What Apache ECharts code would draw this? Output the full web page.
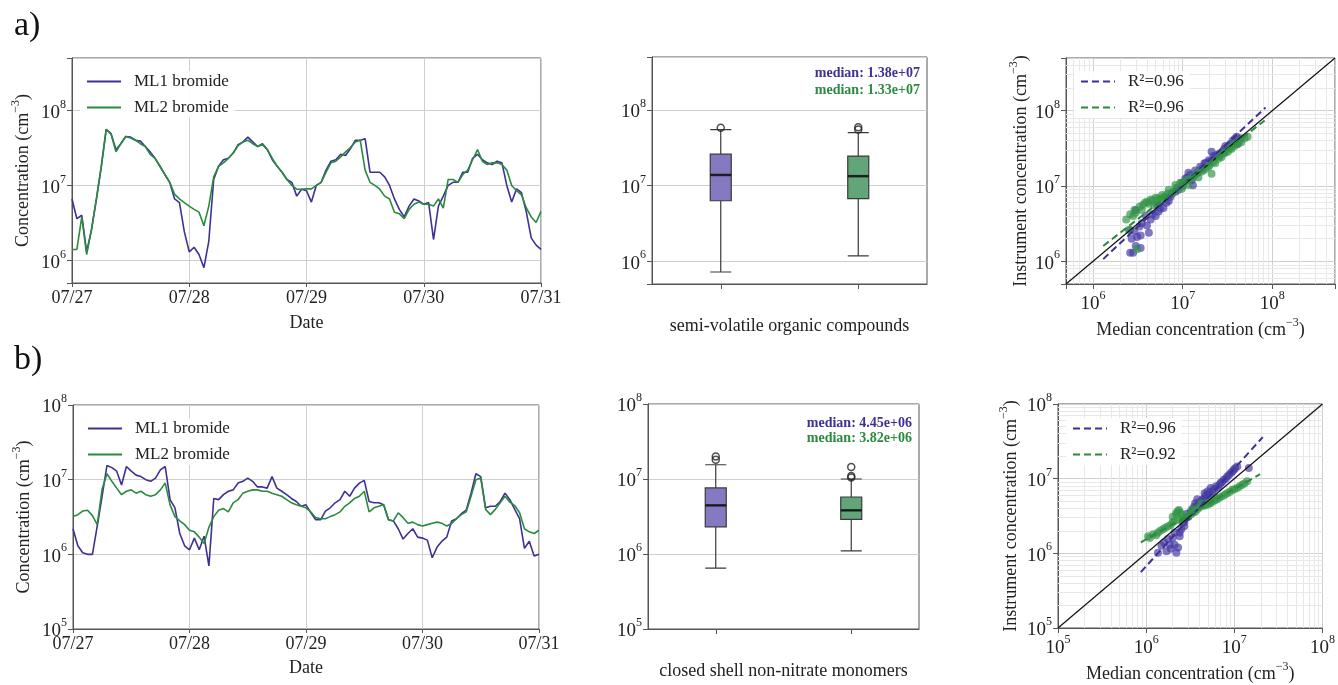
<!DOCTYPE html>
<html>
<head>
<meta charset="utf-8">
<script src="https://cdn.jsdelivr.net/npm/echarts@6/dist/echarts.min.js"></script>
<style>
  html, body { margin: 0; padding: 0; background: #fff; }
  #chart { width: 1338px; height: 685px; }
</style>
</head>
<body>
<div id="chart"></div>
<script>
// ---- data ----
const tickLabels = ['07/27', '07/28', '07/29', '07/30', '07/31'];

// hourly values, 07/27 00:00 .. 07/31 00:00
const svocML1 = [
  6.6e6, 3.6e6, 4.0e6, 1.3e6, 2.6e6, 6.6e6, 1.8e7, 5.6e7, 4.9e7, 3.0e7, 3.6e7, 4.5e7,
  4.4e7, 4.0e7, 3.9e7, 3.3e7, 2.8e7, 2.3e7, 1.8e7, 1.4e7, 1.1e7, 6.6e6, 5.9e6, 2.4e6,
  1.3e6, 1.5e6, 1.2e6, 8.0e5, 1.8e6, 1.2e7, 1.8e7, 2.2e7, 2.3e7, 2.7e7, 3.5e7, 3.8e7,
  4.4e7, 3.8e7, 3.3e7, 3.6e7, 3.0e7, 2.2e7, 1.8e7, 1.5e7, 1.2e7, 1.1e7, 7.2e6, 8.9e6,
  8.5e6, 6.0e6, 1.0e7, 1.1e7, 1.6e7, 2.1e7, 2.2e7, 2.6e7, 2.5e7, 3.1e7, 4.0e7, 4.0e7,
  4.2e7, 1.5e7, 1.5e7, 1.5e7, 1.3e7, 1.0e7, 6.6e6, 4.8e6, 3.8e6, 5.3e6, 6.6e6, 6.2e6,
  5.6e6, 5.9e6, 1.9e6, 5.3e6, 7.2e6, 1.0e7, 1.1e7, 1.1e7, 1.5e7, 1.5e7, 2.3e7, 2.6e7,
  2.2e7, 2.0e7, 1.9e7, 2.1e7, 2.0e7, 1.0e7, 6.0e6, 9.0e6, 8.0e6, 4.4e6, 2.0e6, 1.6e6,
  1.4e6
];
const svocML2 = [
  1.4e6, 1.4e6, 3.8e6, 1.2e6, 2.6e6, 6.6e6, 1.8e7, 5.6e7, 4.8e7, 2.8e7, 3.6e7, 4.5e7,
  4.3e7, 4.0e7, 3.6e7, 3.3e7, 2.6e7, 2.3e7, 1.8e7, 1.4e7, 1.1e7, 7.6e6, 6.6e6, 5.9e6,
  5.3e6, 4.8e6, 4.4e6, 2.9e6, 5.3e6, 1.3e7, 1.8e7, 2.0e7, 2.3e7, 2.7e7, 3.4e7, 3.8e7,
  4.0e7, 3.6e7, 3.3e7, 3.5e7, 3.0e7, 2.3e7, 1.8e7, 1.5e7, 1.2e7, 1.0e7, 8.9e6, 8.9e6,
  9.0e6, 9.0e6, 1.0e7, 1.1e7, 1.5e7, 2.0e7, 2.1e7, 2.4e7, 2.8e7, 3.2e7, 3.8e7, 4.0e7,
  1.6e7, 1.1e7, 1.0e7, 8.9e6, 7.2e6, 6.6e6, 4.4e6, 4.2e6, 3.6e6, 4.8e6, 5.6e6, 6.0e6,
  5.6e6, 5.6e6, 5.3e6, 6.6e6, 5.0e6, 1.2e7, 1.2e7, 1.1e7, 1.4e7, 1.6e7, 2.2e7, 3.0e7,
  2.1e7, 1.9e7, 2.0e7, 2.0e7, 1.9e7, 1.6e7, 1.0e7, 8.5e6, 7.5e6, 5.0e6, 3.8e6, 3.2e6,
  4.5e6
];
const monoML1 = [
  2.2e6, 1.3e6, 1.05e6, 1.0e6, 1.0e6, 2.4e6, 6.0e6, 1.55e7, 1.45e7, 1.3e7, 8.5e6, 1.5e7,
  1.3e7, 1.15e7, 1.1e7, 1.0e7, 9.5e6, 1.05e7, 1.35e7, 1.5e7, 5.4e6, 4.2e6, 1.9e6, 1.3e6,
  1.15e6, 1.65e6, 1.15e6, 1.75e6, 7.0e5, 5.6e6, 5.4e6, 6.3e6, 7.0e6, 7.3e6, 9.0e6, 9.5e6,
  1.05e7, 9.5e6, 8.0e6, 8.0e6, 7.7e6, 1.1e7, 7.7e6, 7.0e6, 6.3e6, 5.6e6, 5.1e6, 4.4e6,
  4.6e6, 3.6e6, 2.9e6, 2.9e6, 3.8e6, 4.2e6, 4.9e6, 5.4e6, 7.0e6, 6.0e6, 7.7e6, 9.0e6,
  9.8e6, 5.1e6, 4.9e6, 4.9e6, 4.6e6, 2.9e6, 2.8e6, 2.2e6, 1.6e6, 1.9e6, 2.2e6, 1.7e6,
  1.65e6, 1.55e6, 9.0e5, 1.25e6, 1.5e6, 1.7e6, 2.8e6, 3.0e6, 3.5e6, 3.9e6, 6.6e6, 1.2e7,
  1.1e7, 4.2e6, 4.4e6, 4.4e6, 5.1e6, 6.6e6, 5.4e6, 4.0e6, 3.0e6, 1.2e6, 1.5e6, 9.5e5,
  1.0e6
];
const monoML2 = [
  3.2e6, 3.4e6, 3.8e6, 3.9e6, 3.3e6, 2.5e6, 7.5e6, 1.2e7, 9.5e6, 7.7e6, 6.3e6, 7.0e6,
  7.3e6, 6.6e6, 7.0e6, 6.3e6, 6.0e6, 6.3e6, 7.3e6, 9.0e6, 4.6e6, 3.2e6, 2.8e6, 2.5e6,
  2.1e6, 2.0e6, 1.7e6, 1.4e6, 2.3e6, 3.2e6, 3.9e6, 4.1e6, 3.7e6, 4.9e6, 5.4e6, 6.6e6,
  7.0e6, 7.3e6, 7.3e6, 7.0e6, 7.0e6, 6.6e6, 6.3e6, 6.0e6, 5.4e6, 4.9e6, 4.6e6, 4.4e6,
  4.2e6, 3.7e6, 3.1e6, 3.0e6, 3.0e6, 3.2e6, 3.4e6, 3.7e6, 4.4e6, 4.9e6, 5.6e6, 6.0e6,
  7.0e6, 3.7e6, 4.2e6, 4.4e6, 4.6e6, 2.9e6, 2.8e6, 3.6e6, 3.1e6, 2.6e6, 2.7e6, 2.5e6,
  2.4e6, 2.5e6, 2.6e6, 2.7e6, 2.6e6, 2.4e6, 2.6e6, 3.0e6, 3.4e6, 3.7e6, 6.0e6, 1.0e7,
  1.05e7, 4.0e6, 3.4e6, 4.0e6, 4.9e6, 6.0e6, 5.0e6, 4.5e6, 3.6e6, 2.2e6, 2.0e6, 1.9e6,
  2.1e6
];

// box plots: [min, Q1, median, Q3, max]
const boxCats = ['ML1 bromide', 'ML2 bromide'];
const svocBox = [[7.2e5, 6.3e6, 1.38e7, 2.6e7, 5.5e7], [1.18e6, 6.7e6, 1.33e7, 2.45e7, 5.0e7]];
const svocOutliers = [[0, 5.8e7], [1, 5.5e7], [1, 5.9e7]];
const monoBox = [[6.5e5, 2.3e6, 4.45e6, 7.6e6, 1.55e7], [1.1e6, 2.9e6, 3.82e6, 5.75e6, 1.0e7]];
const monoOutliers = [[0, 1.8e7], [0, 2.0e7], [1, 1.05e7], [1, 1.1e7], [1, 1.45e7]];

// scatter: [median concentration, instrument concentration]
const svocScatML1 = [
  [2.6e6, 1.3e6], [2.8e6, 1.3e6], [3.4e6, 1.5e6], [3.1e6, 2.1e6], [3.4e6, 2.2e6], [2.6e6, 2.6e6],
  [2.9e6, 2.5e6], [4.0e6, 3.0e6], [4.2e6, 2.4e6], [3.3e6, 2.9e6], [4.4e6, 3.6e6], [5.0e6, 4.0e6],
  [3.9e6, 4.0e6], [3.0e6, 4.8e6], [5.4e6, 4.6e6], [6.1e6, 5.1e6], [6.4e6, 7.0e6], [7.3e6, 7.2e6],
  [8.3e6, 8.4e6], [9.0e6, 8.9e6], [9.8e6, 1.1e7], [1.07e7, 1.25e7], [1.16e7, 1.5e7], [1.26e7, 1.2e7],
  [1.38e7, 1.6e7], [1.57e7, 1.8e7], [1.8e7, 2.0e7], [1.95e7, 2.2e7], [2.1e7, 2.85e7], [2.3e7, 2.4e7],
  [2.6e7, 2.7e7], [2.9e7, 3.1e7], [3.2e7, 3.3e7], [3.6e7, 4.0e7], [4.0e7, 4.5e7], [4.4e7, 4.3e7],
  [4.1e7, 3.6e7], [7.0e6, 6.3e6], [5.2e6, 5.6e6], [1.3e7, 1.02e7],
  [4.6e6, 4.2e6], [5.6e6, 5.0e6], [6.6e6, 6.0e6], [7.6e6, 7.9e6], [8.6e6, 9.5e6], [1.0e7, 1.0e7],
  [1.12e7, 1.3e7], [1.22e7, 1.4e7], [1.45e7, 1.5e7], [1.65e7, 1.7e7], [1.75e7, 2.0e7], [2.0e7, 2.1e7],
  [2.2e7, 2.5e7], [2.4e7, 2.6e7], [2.8e7, 2.9e7], [3.0e7, 3.4e7], [3.4e7, 3.6e7], [3.8e7, 4.2e7],
  [3.5e6, 3.2e6], [2.7e6, 2.0e6], [3.0e6, 1.6e6]
];
const svocScatML2 = [
  [2.35e6, 3.6e6], [2.6e6, 4.2e6], [2.5e6, 2.6e6], [2.8e6, 4.0e6], [2.9e6, 4.8e6], [3.3e6, 5.3e6],
  [3.1e6, 1.45e6], [3.6e6, 5.6e6], [4.0e6, 6.2e6], [4.4e6, 6.6e6], [4.8e6, 5.6e6], [5.0e6, 7.0e6],
  [5.6e6, 6.6e6], [5.9e6, 7.6e6], [6.4e6, 7.2e6], [7.0e6, 8.9e6], [7.9e6, 8.4e6], [8.3e6, 1.03e7],
  [9.4e6, 1.1e7], [9.8e6, 9.2e6], [1.07e7, 1.15e7], [1.16e7, 1.03e7], [1.2e7, 1.26e7], [1.38e7, 1.4e7],
  [1.5e7, 1.3e7], [1.7e7, 1.6e7], [1.95e7, 1.8e7], [2.1e7, 1.45e7], [2.3e7, 2.0e7], [2.5e7, 2.3e7],
  [2.7e7, 2.4e7], [2.9e7, 2.7e7], [3.2e7, 2.85e7], [3.5e7, 3.1e7], [3.8e7, 3.4e7], [4.1e7, 3.6e7],
  [4.5e7, 3.8e7], [4.9e7, 4.3e7], [5.3e7, 4.5e7],
  [3.0e6, 4.4e6], [3.5e6, 4.8e6], [3.8e6, 6.0e6], [4.2e6, 5.8e6], [4.6e6, 6.4e6], [5.3e6, 6.9e6],
  [6.0e6, 7.0e6], [6.8e6, 7.9e6], [7.5e6, 8.0e6], [8.8e6, 9.5e6], [1.0e7, 1.05e7], [1.1e7, 1.2e7],
  [1.3e7, 1.3e7], [1.45e7, 1.5e7], [1.6e7, 1.55e7], [1.8e7, 1.7e7], [2.0e7, 1.9e7], [2.2e7, 2.1e7],
  [2.6e7, 2.5e7], [3.0e7, 2.8e7], [3.4e7, 3.2e7], [3.7e7, 3.6e7], [4.3e7, 4.0e7]
];
const monoScatML1 = [
  [1.36e6, 1.02e6], [1.49e6, 1.26e6], [1.7e6, 1.07e6], [1.85e6, 1.3e6], [2.2e6, 1.02e6], [2.3e6, 1.2e6],
  [1.77e6, 1.55e6], [2.0e6, 1.6e6], [2.4e6, 1.7e6], [2.5e6, 2.1e6], [2.7e6, 2.6e6], [3.0e6, 3.1e6],
  [3.4e6, 3.9e6], [3.8e6, 4.3e6], [4.2e6, 5.0e6], [4.6e6, 5.5e6], [5.0e6, 6.1e6], [5.65e6, 6.8e6],
  [6.2e6, 7.9e6], [7.0e6, 8.8e6], [7.6e6, 9.7e6], [8.3e6, 1.07e7], [9.1e6, 1.19e7], [9.9e6, 1.32e7],
  [1.08e7, 1.46e7], [1.46e7, 1.39e7], [3.6e6, 4.7e6], [4.6e6, 6.4e6], [5.4e6, 7.5e6], [3.8e6, 5.3e6],
  [2.7e6, 2.3e6], [2.1e6, 1.9e6], [6.8e6, 8.3e6], [5.0e6, 6.8e6],
  [2.9e6, 3.4e6], [3.2e6, 3.6e6], [3.5e6, 4.2e6], [4.0e6, 4.8e6], [4.4e6, 5.3e6], [4.8e6, 6.0e6],
  [5.3e6, 6.4e6], [5.9e6, 7.2e6], [6.5e6, 7.6e6], [7.3e6, 9.0e6], [8.0e6, 1.0e7], [8.7e6, 1.12e7],
  [9.5e6, 1.25e7], [1.02e7, 1.38e7], [1.9e6, 1.15e6], [2.1e6, 1.3e6], [1.6e6, 1.4e6], [2.4e6, 1.9e6],
  [2.6e6, 2.6e6]
];
const monoScatML2 = [
  [1.05e6, 1.7e6], [1.2e6, 1.8e6], [1.36e6, 1.9e6], [1.55e6, 2.1e6], [1.77e6, 2.3e6], [2.0e6, 2.6e6],
  [2.2e6, 3.5e6], [2.3e6, 3.7e6], [2.5e6, 3.3e6], [2.4e6, 2.8e6], [2.6e6, 2.8e6], [3.0e6, 3.1e6],
  [3.4e6, 3.5e6], [3.8e6, 3.9e6], [4.4e6, 4.3e6], [5.0e6, 4.5e6], [5.65e6, 5.0e6], [6.4e6, 5.3e6],
  [7.3e6, 5.8e6], [8.3e6, 6.4e6], [9.5e6, 7.1e6], [1.08e7, 7.5e6], [1.23e7, 8.3e6], [1.4e7, 9.2e6],
  [4.2e6, 4.7e6], [5.4e6, 4.7e6], [6.2e6, 5.5e6], [3.3e6, 3.9e6], [2.0e6, 3.1e6],
  [1.1e6, 1.6e6], [1.3e6, 1.75e6], [1.45e6, 2.0e6], [1.65e6, 2.2e6], [1.9e6, 2.4e6], [2.1e6, 2.7e6],
  [2.2e6, 3.3e6], [2.7e6, 3.0e6], [3.2e6, 3.3e6], [3.6e6, 3.6e6], [4.0e6, 4.1e6], [4.7e6, 4.4e6],
  [5.2e6, 4.8e6], [6.0e6, 5.1e6], [6.8e6, 5.6e6], [7.8e6, 6.1e6], [8.9e6, 6.7e6], [1.0e7, 7.2e6],
  [1.15e7, 7.9e6], [1.3e7, 8.6e6], [2.35e6, 3.8e6], [2.45e6, 3.5e6]
];

// regression lines (end points) and their R² labels
const svocFitML1 = [[1.3e6, 1.07e6], [8.4e7, 1.1e8]];
const svocFitML2 = [[1.3e6, 1.6e6], [8.2e7, 7.4e7]];
const monoFitML1 = [[8.7e5, 5.6e5], [2.1e7, 3.6e7]];
const monoFitML2 = [[8.7e5, 1.4e6], [1.96e7, 1.15e7]];
const fitLabels = { fitA1: 'R²=0.96', fitA2: 'R²=0.96', fitB1: 'R²=0.96', fitB2: 'R²=0.92' };

const rangeA = [5e5, 5e8];
const rangeB = [1e5, 1e8];

// ---- styling ----
const serif = '"Liberation Serif", "DejaVu Serif", serif';
const purple = '#3d3196';
const green = '#2b8a3e';
const dotPurple = 'rgba(70, 58, 165, 0.85)';
const dotGreen = 'rgba(52, 150, 72, 0.85)';
const boxFill = ['#8579c2', '#62a578'];
const gridGray = '#cfcfcf';
const axisGray = '#555';

function powLabel(v) {
  const e = Math.log10(v);
  const r = Math.round(e);
  if (Math.abs(e - r) > 1e-6) return '';
  return '{b|10}{s|' + r + '}';
}
const powRich = {
  b: { fontSize: 19, fontFamily: serif, color: '#222', lineHeight: 24, verticalAlign: 'bottom' },
  s: { fontSize: 12, fontFamily: serif, color: '#222', lineHeight: 14, verticalAlign: 'top' }
};
const nameRich = {
  n: { fontSize: 18, fontFamily: serif, color: '#222', lineHeight: 22, verticalAlign: 'bottom' },
  s: { fontSize: 12, fontFamily: serif, color: '#222', lineHeight: 13, verticalAlign: 'top' }
};
function unitName(txt) { return '{n|' + txt + ' (cm}{s|−3}{n|)}'; }

function fmtMedian(v) {
  const [m, e] = v.toExponential(2).split('e');
  const n = parseInt(e, 10);
  return 'median: ' + m + 'e' + (n < 0 ? '-' : '+') + String(Math.abs(n)).padStart(2, '0');
}

function minorValues(lo, hi) {
  const out = [];
  for (let e = Math.floor(Math.log10(lo)); e <= Math.ceil(Math.log10(hi)); e++) {
    for (let m = 2; m <= 9; m++) {
      const v = m * Math.pow(10, e);
      if (v > lo && v < hi) out.push(v);
    }
  }
  return out;
}

function logAxis(gridIndex, range, extra) {
  return Object.assign({
    gridIndex: gridIndex, type: 'log', logBase: 10, min: range[0], max: range[1],
    axisLine: { show: true, lineStyle: { color: axisGray } },
    axisTick: { show: true, inside: false, length: 5, lineStyle: { color: axisGray } },
    axisLabel: { formatter: powLabel, rich: powRich, margin: 6 },
    splitLine: { show: true, lineStyle: { color: gridGray, width: 1 } }
  }, extra || {});
}

const grids = [
  { left: 72, top: 58, width: 469, height: 225 },
  { left: 652, top: 57, width: 275, height: 227 },
  { left: 1066, top: 58, width: 270, height: 226 },
  { left: 73, top: 405, width: 466, height: 224 },
  { left: 648, top: 404, width: 271, height: 225 },
  { left: 1058, top: 404, width: 267, height: 224 }
].map(g => Object.assign({ show: true, borderColor: axisGray, borderWidth: 1, backgroundColor: '#fff' }, g));

function dateAxis(gridIndex, gap) {
  return {
    gridIndex: gridIndex, type: 'value', min: 0, max: 4, interval: 1,
    name: 'Date', nameLocation: 'middle', nameGap: gap,
    nameTextStyle: { fontSize: 18, fontFamily: serif, color: '#222' },
    axisLine: { show: true, lineStyle: { color: axisGray } },
    axisTick: { show: true, length: 4, lineStyle: { color: axisGray } },
    axisLabel: { formatter: v => tickLabels[v] || '', fontSize: 18, fontFamily: serif, color: '#222', margin: 6 },
    splitLine: { show: true, lineStyle: { color: gridGray } }
  };
}
function catAxis(gridIndex, name) {
  return {
    gridIndex: gridIndex, type: 'category', data: boxCats,
    name: name, nameLocation: 'middle', nameGap: 33,
    nameTextStyle: { fontSize: 18, fontFamily: serif, color: '#222' },
    axisLine: { show: true, lineStyle: { color: axisGray } },
    axisTick: { show: true, alignWithLabel: true, length: 5, lineStyle: { color: axisGray } },
    axisLabel: { show: false },
    splitLine: { show: false }
  };
}
function nameOpts(txt, gap) {
  return { name: unitName(txt), nameLocation: 'middle', nameGap: gap, nameTextStyle: { rich: nameRich } };
}

const xAxes = [
  dateAxis(0, 31),
  catAxis(1, 'semi-volatile organic compounds'),
  logAxis(2, rangeA, nameOpts('Median concentration', 33)),
  dateAxis(3, 30),
  catAxis(4, 'closed shell non-nitrate monomers'),
  logAxis(5, rangeB, nameOpts('Median concentration', 33))
];
const yAxes = [
  logAxis(0, rangeA, nameOpts('Concentration', 40)),
  logAxis(1, rangeA),
  logAxis(2, rangeA, nameOpts('Instrument concentration', 36)),
  logAxis(3, rangeB, nameOpts('Concentration', 40)),
  logAxis(4, rangeB),
  logAxis(5, rangeB, nameOpts('Instrument concentration', 38))
];

function hourly(vals) { return vals.map((v, i) => [i / 24, v]); }

function timeSeries(idx, ml1, ml2) {
  const base = { type: 'line', xAxisIndex: idx, yAxisIndex: idx, showSymbol: false, symbol: 'none', z: 3 };
  return [
    Object.assign({ name: 'ML1 bromide', data: hourly(ml1), lineStyle: { color: purple, width: 1.6 }, itemStyle: { color: purple } }, base),
    Object.assign({ name: 'ML2 bromide', data: hourly(ml2), lineStyle: { color: green, width: 1.6 }, itemStyle: { color: green } }, base)
  ];
}

function boxPanel(idx, box, outliers) {
  return [
    {
      type: 'boxplot', xAxisIndex: idx, yAxisIndex: idx, boxWidth: [21, 21],
      data: box.map((d, i) => ({ value: d, itemStyle: { color: boxFill[i], borderColor: '#3a3a3a', borderWidth: 1.2 } }))
    },
    {
      type: 'scatter', xAxisIndex: idx, yAxisIndex: idx, symbol: 'rect', symbolSize: [21, 2.5], z: 4,
      itemStyle: { color: '#111' }, data: box.map((d, i) => [i, d[2]])
    },
    {
      type: 'scatter', xAxisIndex: idx, yAxisIndex: idx, symbol: 'circle', symbolSize: 7, z: 4,
      itemStyle: { color: 'rgba(0,0,0,0)', borderColor: '#222', borderWidth: 1.5 }, data: outliers
    }
  ];
}

function scatterPanel(idx, range, s1, s2, f1, f2, n1, n2) {
  const minor = minorValues(range[0], range[1]);
  return [
    {
      type: 'line', xAxisIndex: idx, yAxisIndex: idx, showSymbol: false, symbol: 'none', z: 5, silent: true,
      data: [[range[0], range[0]], [range[1], range[1]]], lineStyle: { color: '#111', width: 1.2 },
      markLine: {
        silent: true, symbol: ['none', 'none'], label: { show: false }, z: 1,
        lineStyle: { color: '#e8e8e8', width: 1, type: 'solid' },
        data: minor.map(v => ({ xAxis: v })).concat(minor.map(v => ({ yAxis: v })))
      }
    },
    { type: 'scatter', xAxisIndex: idx, yAxisIndex: idx, symbolSize: 8, z: 3, itemStyle: { color: dotPurple }, data: s1 },
    { type: 'scatter', xAxisIndex: idx, yAxisIndex: idx, symbolSize: 8, z: 3, itemStyle: { color: dotGreen }, data: s2 },
    { name: n1, type: 'line', xAxisIndex: idx, yAxisIndex: idx, showSymbol: false, symbol: 'none', z: 6, data: f1,
      lineStyle: { color: purple, width: 2, type: [7, 4] }, itemStyle: { color: purple } },
    { name: n2, type: 'line', xAxisIndex: idx, yAxisIndex: idx, showSymbol: false, symbol: 'none', z: 6, data: f2,
      lineStyle: { color: green, width: 2, type: [7, 4] }, itemStyle: { color: green } }
  ];
}

const series = [].concat(
  timeSeries(0, svocML1, svocML2),
  boxPanel(1, svocBox, svocOutliers),
  scatterPanel(2, rangeA, svocScatML1, svocScatML2, svocFitML1, svocFitML2, 'fitA1', 'fitA2'),
  timeSeries(3, monoML1, monoML2),
  boxPanel(4, monoBox, monoOutliers),
  scatterPanel(5, rangeB, monoScatML1, monoScatML2, monoFitML1, monoFitML2, 'fitB1', 'fitB2')
);

const legendBase = {
  orient: 'vertical', itemWidth: 34, itemHeight: 14, itemGap: 9, padding: [2, 6],
  backgroundColor: 'rgba(255,255,255,0.9)', borderWidth: 0,
  itemStyle: { color: 'rgba(0,0,0,0)', borderWidth: 0, opacity: 0 },
  textStyle: { fontSize: 17, fontFamily: serif, color: '#222', padding: [0, 0, 0, 8] },
  selectedMode: false
};
const legends = [
  Object.assign({ data: ['ML1 bromide', 'ML2 bromide'], left: 80, top: 71 }, legendBase),
  Object.assign({ data: ['ML1 bromide', 'ML2 bromide'], left: 81, top: 418 }, legendBase),
  Object.assign({ data: ['fitA1', 'fitA2'], left: 1074, top: 71, formatter: n => fitLabels[n] }, legendBase),
  Object.assign({ data: ['fitB1', 'fitB2'], left: 1066, top: 418, formatter: n => fitLabels[n] }, legendBase)
];

function medianText(x, y, value, color) {
  return {
    type: 'text', x: x, y: y, z: 10,
    style: { text: fmtMedian(value), fill: color, align: 'right', verticalAlign: 'middle',
             font: 'bold 14px ' + serif }
  };
}
const graphics = [
  { type: 'text', x: 14, y: 26, style: { text: 'a)', fill: '#111', font: '34px ' + serif, verticalAlign: 'middle' } },
  { type: 'text', x: 14, y: 360, style: { text: 'b)', fill: '#111', font: '34px ' + serif, verticalAlign: 'middle' } },
  medianText(920, 73, svocBox[0][2], purple),
  medianText(920, 90, svocBox[1][2], green),
  medianText(912, 423, monoBox[0][2], purple),
  medianText(912, 438, monoBox[1][2], green)
];

const chart = echarts.init(document.getElementById('chart'));
chart.setOption({
  animation: false,
  backgroundColor: '#fff',
  textStyle: { fontFamily: serif },
  grid: grids,
  xAxis: xAxes,
  yAxis: yAxes,
  legend: legends,
  graphic: graphics,
  series: series
});
</script>
</body>
</html>
